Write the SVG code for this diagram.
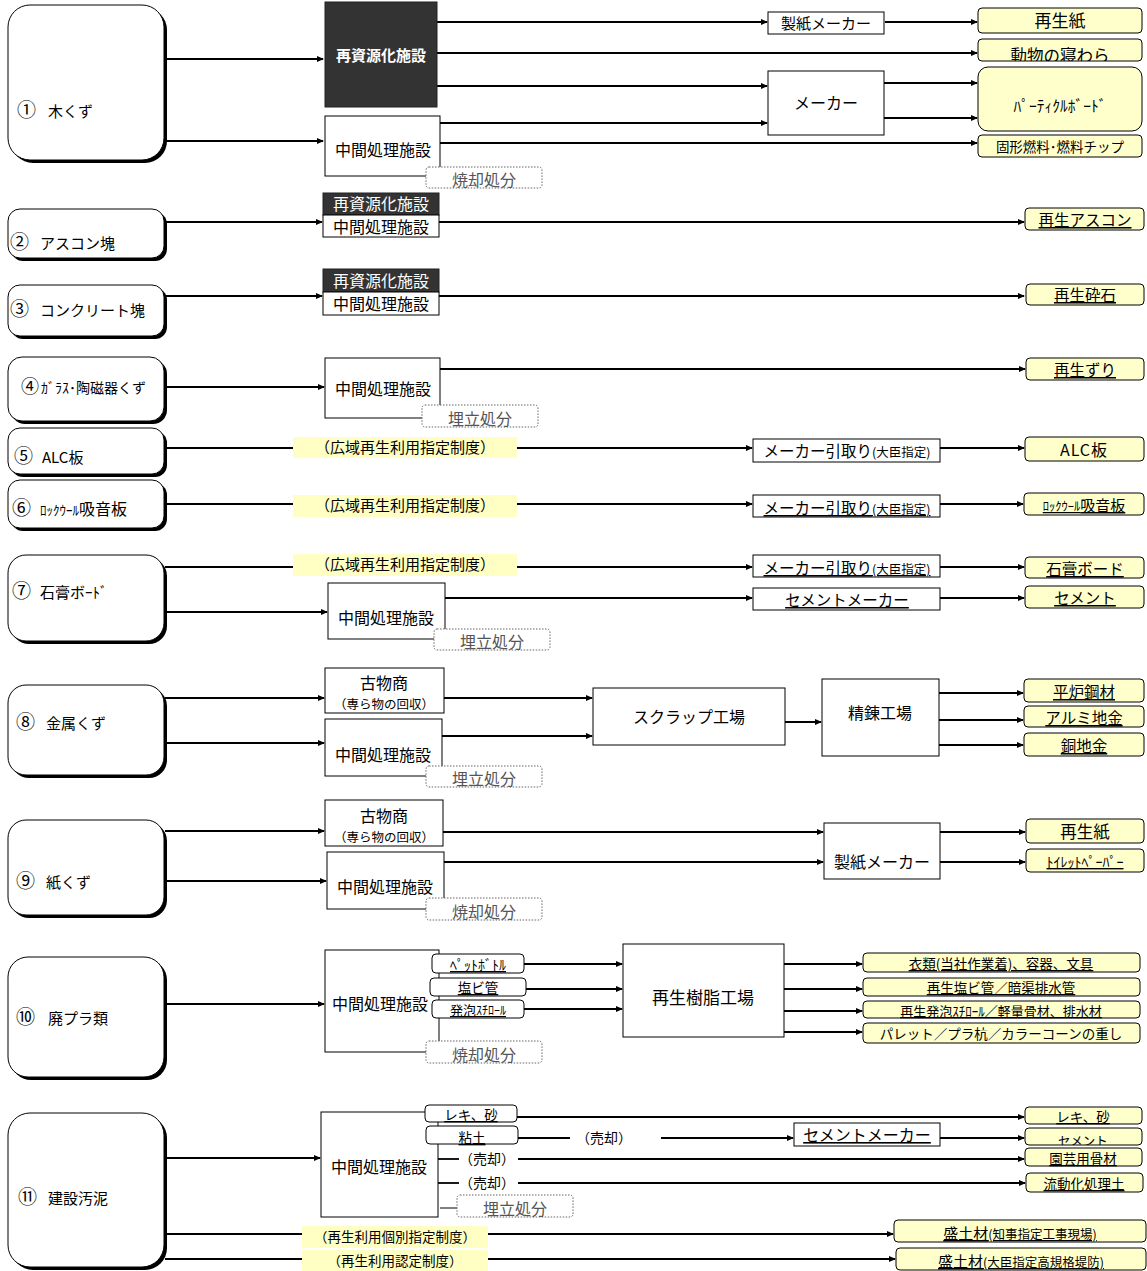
<svg xmlns="http://www.w3.org/2000/svg" width="1147" height="1271" viewBox="0 0 1147 1271">
<style>
text{font-family:"Noto Sans CJK JP","Noto Sans",sans-serif;fill:#000;font-size:15px}
.c{text-anchor:middle}
.u{text-decoration:underline}
.ln{stroke:#000;stroke-width:1.8;fill:none}
.a{marker-end:url(#ah)}
.box{fill:#fff;stroke:#000;stroke-width:1}
.dark{fill:#333;stroke:#222;stroke-width:1}
.out{fill:#ffffcc;stroke:#000;stroke-width:1}
.sub{fill:#fff;stroke:#000;stroke-width:1}
.dot{fill:#fff;stroke:#666;stroke-width:1;stroke-dasharray:1.5 1.5}
.lab{fill:#ffffc4}
.sh{fill:#000}
.src{fill:#fff;stroke:#000;stroke-width:1}
.gray{fill:#555;font-size:16px}
.w{fill:#fff}
.s{font-size:14px}
.m{font-size:16px}
.n{font-size:19px}
.lb{font-size:15px}
</style>
<defs>
<marker id="ah" markerWidth="7" markerHeight="6" refX="6" refY="3" orient="auto" markerUnits="userSpaceOnUse"><path d="M0,0L7,3L0,6z" fill="#000"/></marker>
<clipPath id="clipA"><rect x="978" y="39" width="164" height="22"/></clipPath>
<clipPath id="clipB"><rect x="1025" y="1128" width="117" height="17"/></clipPath>
</defs>

<g id="connectors">
<path class="ln a" d="M165,59H323"/>
<path class="ln a" d="M165,141H323"/>
<path class="ln a" d="M437,22H767"/>
<path class="ln a" d="M885,22H977"/>
<path class="ln a" d="M437,53H977"/>
<path class="ln a" d="M437,86H767"/>
<path class="ln a" d="M440,123H767"/>
<path class="ln a" d="M884,83H977"/>
<path class="ln a" d="M884,118H977"/>
<path class="ln a" d="M440,143H977"/>

<path class="ln a" d="M165,222H322"/>
<path class="ln a" d="M439,222H1024"/>
<path class="ln a" d="M165,296H322"/>
<path class="ln a" d="M439,296H1024"/>
<path class="ln a" d="M165,387H324"/>
<path class="ln a" d="M440,369H1025"/>

<path class="ln" d="M165,448H293"/>
<path class="ln a" d="M517,448H752"/>
<path class="ln a" d="M940,448H1024"/>
<path class="ln" d="M165,504H293"/>
<path class="ln a" d="M517,504H752"/>
<path class="ln a" d="M940,504H1023"/>
<path class="ln" d="M165,567H293"/>
<path class="ln a" d="M517,567H752"/>
<path class="ln a" d="M940,567H1024"/>
<path class="ln a" d="M165,612H327"/>
<path class="ln a" d="M445,598H752"/>
<path class="ln a" d="M940,598H1024"/>

<path class="ln a" d="M165,698H324"/>
<path class="ln a" d="M165,743H324"/>
<path class="ln a" d="M444,698H592"/>
<path class="ln a" d="M442,736H592"/>
<path class="ln a" d="M785,722H821"/>
<path class="ln a" d="M939,693H1023"/>
<path class="ln a" d="M939,720H1023"/>
<path class="ln a" d="M939,745H1023"/>

<path class="ln a" d="M165,831H324"/>
<path class="ln a" d="M165,881H326"/>
<path class="ln a" d="M443,832H823"/>
<path class="ln a" d="M444,862H823"/>
<path class="ln a" d="M940,832H1025"/>
<path class="ln a" d="M940,862H1025"/>

<path class="ln a" d="M165,1004H324"/>
<path class="ln a" d="M524,964H622"/>
<path class="ln a" d="M526,989H622"/>
<path class="ln a" d="M524,1009H622"/>
<path class="ln a" d="M784,964H862"/>
<path class="ln a" d="M784,989H862"/>
<path class="ln a" d="M784,1011H862"/>
<path class="ln a" d="M784,1032H862"/>

<path class="ln a" d="M165,1158H320"/>
<path class="ln a" d="M517,1117H1024"/>
<path class="ln" d="M518,1138H570"/>
<path class="ln a" d="M661,1138H793"/>
<path class="ln a" d="M940,1138H1024"/>
<path class="ln" d="M438,1159H459"/>
<path class="ln a" d="M518,1159H1024"/>
<path class="ln" d="M438,1183H459"/>
<path class="ln a" d="M518,1183H1025"/>
<path class="ln" d="M440,1208H457" style="stroke-width:1"/>
<path class="ln" d="M165,1234H302"/>
<path class="ln a" d="M488,1234H893"/>
<path class="ln" d="M165,1259H302"/>
<path class="ln a" d="M488,1259H895"/>
</g>

<!-- Row 1 -->
<g id="src1"><rect class="sh" x="11" y="8" width="156" height="155" rx="22"/><rect class="src" x="8" y="5" width="156" height="155" rx="22"/><text x="17" y="117"><tspan class="n">①</tspan><tspan x="48">木くず</tspan></text></g>
<g id="r1-saishigen"><rect class="dark" x="325" y="2" width="112" height="105"/><text class="c w" x="381" y="61" style="font-weight:bold">再資源化施設</text></g>
<g id="r1-chukan"><rect class="box" x="325" y="116" width="115" height="60"/><text class="c m" x="383" y="156">中間処理施設</text></g>
<g id="r1-shokyaku"><rect class="dot" x="426" y="167" width="116" height="21" rx="3"/><text class="c gray" x="484" y="186">焼却処分</text></g>
<g id="r1-seishi"><rect class="box" x="768" y="12" width="116" height="22"/><text class="c" x="826" y="29">製紙メーカー</text></g>
<g id="r1-maker"><rect class="box" x="768" y="71" width="116" height="64"/><text class="c m" x="826" y="109">メーカー</text></g>
<g id="r1-o1"><rect class="out" x="978" y="8" width="164" height="25" rx="4"/><text class="c" x="1060" y="27" style="font-size:17px">再生紙</text></g>
<g id="r1-o2"><rect class="out" x="978" y="39" width="164" height="22" rx="4"/><text class="c" x="1060" y="62" clip-path="url(#clipA)" style="font-size:16.5px">動物の寝わら</text></g>
<g id="r1-o3"><rect class="out" x="978" y="67" width="164" height="64" rx="10"/><text class="c" x="1060" y="112" style="font-size:15.5px">ﾊﾟｰﾃｨｸﾙﾎﾞｰﾄﾞ</text></g>
<g id="r1-o4"><rect class="out" x="978" y="135" width="164" height="22" rx="4"/><text class="c" x="1060" y="152" style="font-size:13.5px">固形燃料･燃料チップ</text></g>

<!-- Row 2 -->
<g id="src2"><rect class="sh" x="11" y="212" width="156" height="49" rx="12"/><rect class="src" x="8" y="209" width="156" height="49" rx="12"/><text x="10" y="249"><tspan class="n">②</tspan><tspan x="40">アスコン塊</tspan></text></g>
<g id="r2-fac"><rect class="dark" x="323" y="193" width="116" height="22"/><text class="c w m" x="381" y="210">再資源化施設</text><rect class="box" x="323" y="215" width="116" height="22"/><text class="c m" x="381" y="233">中間処理施設</text></g>
<g id="r2-o"><rect class="out" x="1025" y="208" width="119" height="22" rx="4"/><text class="c u" x="1085" y="226" style="font-size:15.5px">再生アスコン</text></g>

<!-- Row 3 -->
<g id="src3"><rect class="sh" x="11" y="288" width="156" height="51" rx="12"/><rect class="src" x="8" y="285" width="156" height="51" rx="12"/><text x="10" y="316"><tspan class="n">③</tspan><tspan x="40">コンクリート塊</tspan></text></g>
<g id="r3-fac"><rect class="dark" x="323" y="269" width="116" height="23"/><text class="c w m" x="381" y="287">再資源化施設</text><rect class="box" x="323" y="292" width="116" height="23"/><text class="c m" x="381" y="310">中間処理施設</text></g>
<g id="r3-o"><rect class="out" x="1026" y="284" width="118" height="21" rx="4"/><text class="c u" x="1085" y="301" style="font-size:15.5px">再生砕石</text></g>

<!-- Row 4 -->
<g id="src4"><rect class="sh" x="11" y="360" width="156" height="64" rx="14"/><rect class="src" x="8" y="357" width="156" height="64" rx="14"/><text x="21" y="393" class="s"><tspan style="font-size:18px">④</tspan><tspan x="41">ｶﾞﾗｽ･陶磁器くず</tspan></text></g>
<g id="r4-chukan"><rect class="box" x="325" y="358" width="115" height="60"/><text class="c m" x="383" y="395">中間処理施設</text></g>
<g id="r4-umetate"><rect class="dot" x="422" y="405" width="116" height="22" rx="3"/><text class="c gray" x="480" y="425">埋立処分</text></g>
<g id="r4-o"><rect class="out" x="1026" y="358" width="118" height="22" rx="4"/><text class="c u" x="1085" y="376" style="font-size:15.5px">再生ずり</text></g>

<!-- Row 5 -->
<g id="src5"><rect class="sh" x="11" y="431" width="156" height="46" rx="12"/><rect class="src" x="8" y="428" width="156" height="46" rx="12"/><text x="14" y="463"><tspan class="n">⑤</tspan><tspan x="42">ALC板</tspan></text></g>
<g id="r5-lab"><rect class="lab" x="293" y="437" width="224" height="21"/><text class="c lb" x="405" y="453">（広域再生利用指定制度）</text></g>
<g id="r5-mk"><rect class="box" x="753" y="439" width="187" height="23"/><text class="c" x="847" y="457" style="font-size:15.5px">メーカー引取り<tspan style="font-size:12.5px">(大臣指定)</tspan></text></g>
<g id="r5-o"><rect class="out" x="1025" y="437" width="119" height="24" rx="4"/><text class="c m" x="1084" y="456" style="letter-spacing:1px">ALC板</text></g>

<!-- Row 6 -->
<g id="src6"><rect class="sh" x="11" y="483" width="156" height="48" rx="12"/><rect class="src" x="8" y="480" width="156" height="48" rx="12"/><text x="12" y="515"><tspan class="n">⑥</tspan><tspan x="40" style="font-size:13px">ﾛｯｸｳｰﾙ</tspan><tspan style="font-size:16px">吸音板</tspan></text></g>
<g id="r6-lab"><rect class="lab" x="293" y="495" width="224" height="22"/><text class="c lb" x="405" y="511">（広域再生利用指定制度）</text></g>
<g id="r6-mk"><rect class="box" x="753" y="495" width="187" height="22"/><text class="c u" x="847" y="514" style="font-size:15.5px">メーカー引取り<tspan style="font-size:12.5px">(大臣指定)</tspan></text></g>
<g id="r6-o"><rect class="out" x="1024" y="493" width="120" height="22" rx="4"/><text class="c u" x="1084" y="511"><tspan style="font-size:12.5px">ﾛｯｸｳｰﾙ</tspan><tspan style="font-size:15px">吸音板</tspan></text></g>

<!-- Row 7 -->
<g id="src7"><rect class="sh" x="11" y="558" width="156" height="86" rx="18"/><rect class="src" x="8" y="555" width="156" height="86" rx="18"/><text x="12" y="598"><tspan class="n">⑦</tspan><tspan x="40">石膏ボｰﾄﾞ</tspan></text></g>
<g id="r7-lab"><rect class="lab" x="293" y="554" width="224" height="22"/><text class="c lb" x="405" y="570">（広域再生利用指定制度）</text></g>
<g id="r7-mk"><rect class="box" x="753" y="555" width="187" height="22"/><text class="c u" x="847" y="574" style="font-size:15.5px">メーカー引取り<tspan style="font-size:12.5px">(大臣指定)</tspan></text></g>
<g id="r7-o1"><rect class="out" x="1025" y="557" width="119" height="21" rx="4"/><text class="c u" x="1085" y="575" style="font-size:15.5px">石膏ボード</text></g>
<g id="r7-chukan"><rect class="box" x="328" y="583" width="117" height="56"/><text class="c m" x="386" y="624">中間処理施設</text></g>
<g id="r7-umetate"><rect class="dot" x="434" y="629" width="116" height="21" rx="3"/><text class="c gray" x="492" y="648">埋立処分</text></g>
<g id="r7-cm"><rect class="box" x="753" y="588" width="187" height="22"/><text class="c u" x="847" y="606" style="font-size:15.5px">セメントメーカー</text></g>
<g id="r7-o2"><rect class="out" x="1025" y="586" width="119" height="22" rx="4"/><text class="c u" x="1085" y="604" style="font-size:15.5px">セメント</text></g>

<!-- Row 8 -->
<g id="src8"><rect class="sh" x="11" y="688" width="156" height="90" rx="18"/><rect class="src" x="8" y="685" width="156" height="90" rx="18"/><text x="16" y="729"><tspan class="n">⑧</tspan><tspan x="46">金属くず</tspan></text></g>
<g id="r8-kobutsu"><rect class="box" x="325" y="668" width="119" height="45"/><text class="c m" x="384" y="689">古物商</text><text class="c" x="384" y="709" style="font-size:12.5px">（専ら物の回収）</text></g>
<g id="r8-chukan"><rect class="box" x="325" y="719" width="117" height="57"/><text class="c m" x="383" y="761">中間処理施設</text></g>
<g id="r8-umetate"><rect class="dot" x="426" y="766" width="116" height="21" rx="3"/><text class="c gray" x="484" y="785">埋立処分</text></g>
<g id="r8-scrap"><rect class="box" x="593" y="688" width="192" height="57"/><text class="c m" x="689" y="723">スクラップ工場</text></g>
<g id="r8-seiren"><rect class="box" x="822" y="679" width="117" height="77"/><text class="c m" x="880" y="719">精錬工場</text></g>
<g id="r8-o1"><rect class="out" x="1024" y="679" width="120" height="23" rx="4"/><text class="c u" x="1084" y="698" style="font-size:15.5px">平炉鋼材</text></g>
<g id="r8-o2"><rect class="out" x="1024" y="706" width="120" height="21" rx="4"/><text class="c u" x="1084" y="724" style="font-size:15.5px">アルミ地金</text></g>
<g id="r8-o3"><rect class="out" x="1024" y="733" width="120" height="23" rx="4"/><text class="c u" x="1084" y="752" style="font-size:15.5px">銅地金</text></g>

<!-- Row 9 -->
<g id="src9"><rect class="sh" x="11" y="823" width="156" height="95" rx="18"/><rect class="src" x="8" y="820" width="156" height="95" rx="18"/><text x="16" y="888"><tspan class="n">⑨</tspan><tspan x="46">紙くず</tspan></text></g>
<g id="r9-kobutsu"><rect class="box" x="325" y="800" width="118" height="46"/><text class="c m" x="384" y="822">古物商</text><text class="c" x="384" y="842" style="font-size:12.5px">（専ら物の回収）</text></g>
<g id="r9-chukan"><rect class="box" x="327" y="852" width="117" height="57"/><text class="c m" x="385" y="893">中間処理施設</text></g>
<g id="r9-shokyaku"><rect class="dot" x="426" y="898" width="116" height="22" rx="3"/><text class="c gray" x="484" y="918">焼却処分</text></g>
<g id="r9-seishi"><rect class="box" x="824" y="823" width="116" height="56"/><text class="c m" x="882" y="868">製紙メーカー</text></g>
<g id="r9-o1"><rect class="out" x="1026" y="819" width="118" height="24" rx="4"/><text class="c" x="1085" y="838" style="font-size:16.5px">再生紙</text></g>
<g id="r9-o2"><rect class="out" x="1026" y="849" width="118" height="23" rx="4"/><text class="c u" x="1085" y="867" style="font-size:14px">ﾄｲﾚｯﾄﾍﾟｰﾊﾟｰ</text></g>

<!-- Row 10 -->
<g id="src10"><rect class="sh" x="11" y="960" width="156" height="120" rx="20"/><rect class="src" x="8" y="957" width="156" height="120" rx="20"/><text x="16" y="1024"><tspan class="n">⑩</tspan><tspan x="48">廃プラ類</tspan></text></g>
<g id="r10-chukan"><rect class="box" x="325" y="950" width="114" height="102"/><text class="m" x="332" y="1010">中間処理施設</text></g>
<g id="r10-pet"><rect class="sub" x="432" y="954" width="92" height="19" rx="4"/><text class="c u" x="478" y="970" style="font-size:14px">ﾍﾟｯﾄﾎﾞﾄﾙ</text></g>
<g id="r10-enbi"><rect class="sub" x="430" y="978" width="96" height="18" rx="4"/><text class="c u" x="478" y="993" style="font-size:13.5px">塩ビ管</text></g>
<g id="r10-happo"><rect class="sub" x="432" y="1000" width="92" height="18" rx="4"/><text class="c u" x="478" y="1015" style="font-size:13px">発泡<tspan style="font-size:12px">ｽﾁﾛｰﾙ</tspan></text></g>
<g id="r10-shokyaku"><rect class="dot" x="426" y="1041" width="116" height="22" rx="3"/><text class="c gray" x="484" y="1061">焼却処分</text></g>
<g id="r10-jushi"><rect class="box" x="623" y="944" width="161" height="93"/><text class="c" x="703" y="1004" style="font-size:17px">再生樹脂工場</text></g>
<g id="r10-o1"><rect class="out" x="863" y="953" width="277" height="19" rx="4"/><text class="c u" x="1001" y="969" style="font-size:13.5px">衣類(当社作業着)、容器、文具</text></g>
<g id="r10-o2"><rect class="out" x="863" y="978" width="277" height="18" rx="4"/><text class="c u" x="1001" y="993" style="font-size:13.5px">再生塩ビ管／暗渠排水管</text></g>
<g id="r10-o3"><rect class="out" x="863" y="1001" width="277" height="17" rx="4"/><text class="c u" x="1001" y="1016" style="font-size:13px">再生発泡ｽﾁﾛｰﾙ／軽量骨材、排水材</text></g>
<g id="r10-o4"><rect class="out" x="863" y="1023" width="277" height="20" rx="4"/><text class="c" x="1001" y="1039" style="font-size:13.5px">パレット／プラ杭／カラーコーンの重し</text></g>

<!-- Row 11 -->
<g id="src11"><rect class="sh" x="11" y="1116" width="156" height="154" rx="22"/><rect class="src" x="8" y="1113" width="156" height="154" rx="22"/><text x="18" y="1204"><tspan class="n">⑪</tspan><tspan x="48">建設汚泥</tspan></text></g>
<g id="r11-chukan"><rect class="box" x="321" y="1112" width="117" height="105"/><text class="c m" x="379" y="1173">中間処理施設</text></g>
<g id="r11-reki"><rect class="sub" x="425" y="1105" width="92" height="17" rx="4"/><text class="c u" x="471" y="1120" style="font-size:13.5px">レキ、砂</text></g>
<g id="r11-nendo"><rect class="sub" x="426" y="1126" width="92" height="18" rx="4"/><text class="c u" x="472" y="1143" style="font-size:13.5px">粘土</text></g>
<g id="r11-bai1"><text class="c s" x="604" y="1143">（売却）</text></g>
<g id="r11-bai2"><text class="c s" x="487" y="1164">（売却）</text></g>
<g id="r11-bai3"><text class="c s" x="487" y="1188">（売却）</text></g>
<g id="r11-umetate"><rect class="dot" x="457" y="1195" width="116" height="22" rx="3"/><text class="c gray" x="515" y="1215">埋立処分</text></g>
<g id="r11-cm"><rect class="box" x="794" y="1123" width="146" height="23"/><text class="c u m" x="867" y="1141">セメントメーカー</text></g>
<g id="r11-o1"><rect class="out" x="1025" y="1107" width="117" height="17" rx="4"/><text class="c u" x="1083" y="1122" style="font-size:13.5px">レキ、砂</text></g>
<g id="r11-o2"><rect class="out" x="1025" y="1128" width="117" height="17" rx="4"/><text class="c" x="1083" y="1146" clip-path="url(#clipB)" style="font-size:12.5px">セメント</text></g>
<g id="r11-o3"><rect class="out" x="1025" y="1148" width="117" height="18" rx="4"/><text class="c u" x="1083" y="1164" style="font-size:13.5px">園芸用骨材</text></g>
<g id="r11-o4"><rect class="out" x="1026" y="1173" width="117" height="19" rx="4"/><text class="c u" x="1084" y="1189" style="font-size:13.5px">流動化処理土</text></g>
<g id="r11-lab1"><rect class="lab" x="302" y="1226" width="186" height="22"/><text class="c" x="395" y="1242" style="font-size:13.5px">（再生利用個別指定制度）</text></g>
<g id="r11-lab2"><rect class="lab" x="302" y="1250" width="186" height="21"/><text class="c" x="395" y="1266" style="font-size:13.5px">（再生利用認定制度）</text></g>
<g id="r11-o5"><rect class="out" x="894" y="1220" width="252" height="22" rx="4"/><text class="c u" x="1020" y="1239" style="font-size:15px">盛土材<tspan style="font-size:12.5px">(知事指定工事現場)</tspan></text></g>
<g id="r11-o6"><rect class="out" x="896" y="1248" width="250" height="22" rx="4"/><text class="c u" x="1021" y="1267" style="font-size:15px">盛土材<tspan style="font-size:12.5px">(大臣指定高規格堤防)</tspan></text></g>
</svg>
